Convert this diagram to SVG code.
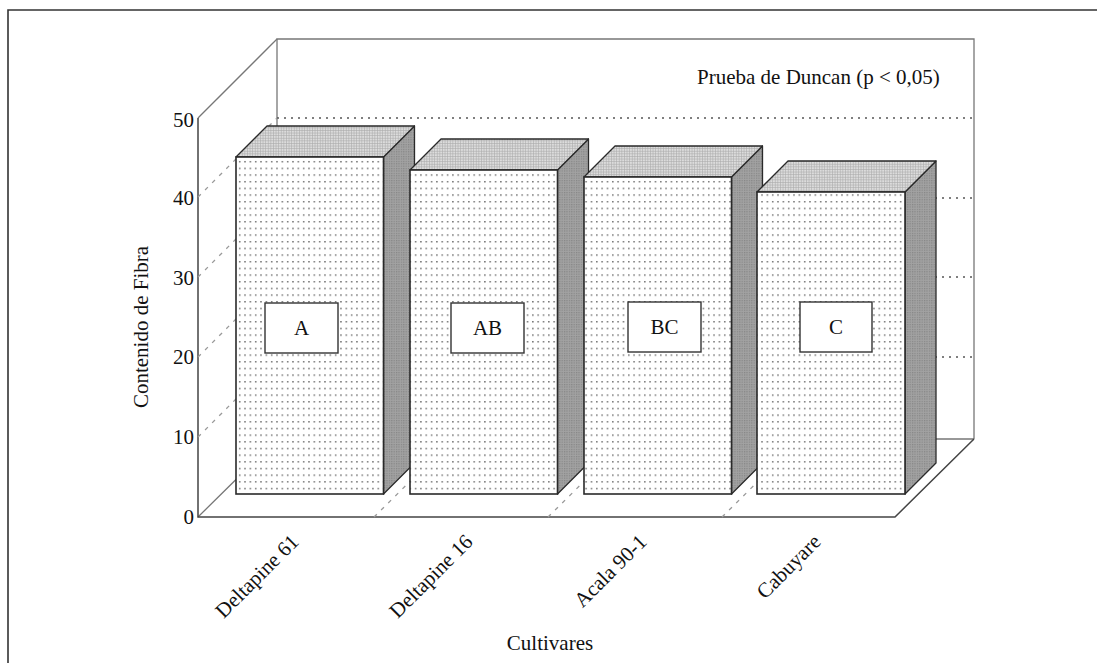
<svg xmlns="http://www.w3.org/2000/svg" width="1097" height="663" viewBox="0 0 1097 663">
<defs>
<pattern id="dots" width="5.33" height="6.67" patternUnits="userSpaceOnUse" x="238" y="160">
<rect width="5.33" height="6.67" fill="#ffffff"/>
<rect x="1" y="1" width="1.4" height="1.4" fill="#5e5e5e"/>
</pattern>
<pattern id="grid" width="2.6" height="2.6" patternUnits="userSpaceOnUse">
<rect width="2.6" height="2.6" fill="#dcdcdc"/>
<path d="M0 0.3H2.6M0.3 0V2.6" stroke="#aaaaaa" stroke-width="0.7"/>
</pattern>
<pattern id="side" width="2.4" height="2.4" patternUnits="userSpaceOnUse">
<rect width="2.4" height="2.4" fill="#a2a2a2"/>
<rect x="0" y="0" width="1.2" height="1.2" fill="#858585"/>
</pattern>
<style>
.t{font-family:"Liberation Serif","Times New Roman",serif;fill:#111;font-size:21px}
.wall{fill:none;stroke:#777;stroke-width:1.3}
.wallk{fill:none;stroke:#444;stroke-width:1.5}
.grid{fill:none;stroke:#555;stroke-width:1.6;stroke-dasharray:2 5}
.lgrid{fill:none;stroke:#999;stroke-width:1.3;stroke-dasharray:4 6}
.front{fill:url(#dots);stroke:#2a2a2a;stroke-width:1.6}
.top{fill:url(#grid);stroke:#2a2a2a;stroke-width:1.3;stroke-linejoin:round}
.side{fill:url(#side);stroke:#2a2a2a;stroke-width:1.3;stroke-linejoin:round}
.box{fill:#fff;stroke:#333;stroke-width:1.4}
</style>
</defs>
<rect width="1097" height="663" fill="#fff"/>
<path d="M8 663V10H1097" fill="none" stroke="#333" stroke-width="1.6"/>

<g id="axes">
<g id="walls">
<path class="wall" d="M277 439V39H974V439"/>
<path class="wall" d="M198 118L277 39"/>
<path class="wall" d="M198 517L277 439H974"/>
<path class="wallk" d="M198 118V517H895L974 439"/>
</g>
<g id="gridlines">
<path class="grid" d="M277 118H974M277 198H974M277 277H974M277 357H974"/>
<path class="lgrid" d="M198 437L277 358M198 357L277 278M198 277L277 198M198 197L277 118"/>
<path class="lgrid" d="M374 517L453 439M548 517L627 439M722 517L801 439"/>
</g>
<g id="ytick-labels" class="t" text-anchor="end">
<text x="194" y="127">50</text>
<text x="194" y="205">40</text>
<text x="194" y="285">30</text>
<text x="194" y="364">20</text>
<text x="194" y="444">10</text>
<text x="194" y="524">0</text>
</g>
<text class="t" transform="translate(148,327) rotate(-90)" text-anchor="middle">Contenido de Fibra</text>
<g id="xtick-labels" class="t" text-anchor="end">
<text transform="translate(300,543) rotate(-45)">Deltapine 61</text>
<text transform="translate(474,543) rotate(-45)">Deltapine 16</text>
<text transform="translate(648,543) rotate(-45)">Acala 90-1</text>
<text transform="translate(822,543) rotate(-45)">Cabuyare</text>
</g>
<text class="t" x="550" y="650" text-anchor="middle">Cultivares</text>
<text class="t" x="697" y="84">Prueba de Duncan (p &lt; 0,05)</text>
</g>

<g id="bar-deltapine61">
<polygon class="side" points="383.5,157 414.5,126 414.5,463 383.5,494"/>
<polygon class="top" points="236,157 267,126 414.5,126 383.5,157"/>
<rect class="front" x="236" y="157" width="147.5" height="337"/>
</g>
<g id="bar-deltapine16">
<polygon class="side" points="557.5,170 588.5,139 588.5,463 557.5,494"/>
<polygon class="top" points="410,170 441,139 588.5,139 557.5,170"/>
<rect class="front" x="410" y="170" width="147.5" height="324"/>
</g>
<g id="bar-acala">
<polygon class="side" points="731.5,177 762.5,146 762.5,463 731.5,494"/>
<polygon class="top" points="584,177 615,146 762.5,146 731.5,177"/>
<rect class="front" x="584" y="177" width="147.5" height="317"/>
</g>
<g id="bar-cabuyare">
<polygon class="side" points="905,192 936,161 936,463 905,494"/>
<polygon class="top" points="757,192 788,161 936,161 905,192"/>
<rect class="front" x="757" y="192" width="148" height="302"/>
</g>

<g id="label-A">
<rect class="box" x="265" y="303" width="73" height="50"/>
<text class="t" x="301.5" y="335" text-anchor="middle">A</text>
</g>
<g id="label-AB">
<rect class="box" x="451" y="303" width="73" height="50"/>
<text class="t" x="487.5" y="335" text-anchor="middle">AB</text>
</g>
<g id="label-BC">
<rect class="box" x="628" y="302" width="73" height="50"/>
<text class="t" x="664.5" y="334" text-anchor="middle">BC</text>
</g>
<g id="label-C">
<rect class="box" x="800" y="302" width="72" height="50"/>
<text class="t" x="836" y="334" text-anchor="middle">C</text>
</g>
<g id="connectors"/>
</svg>
